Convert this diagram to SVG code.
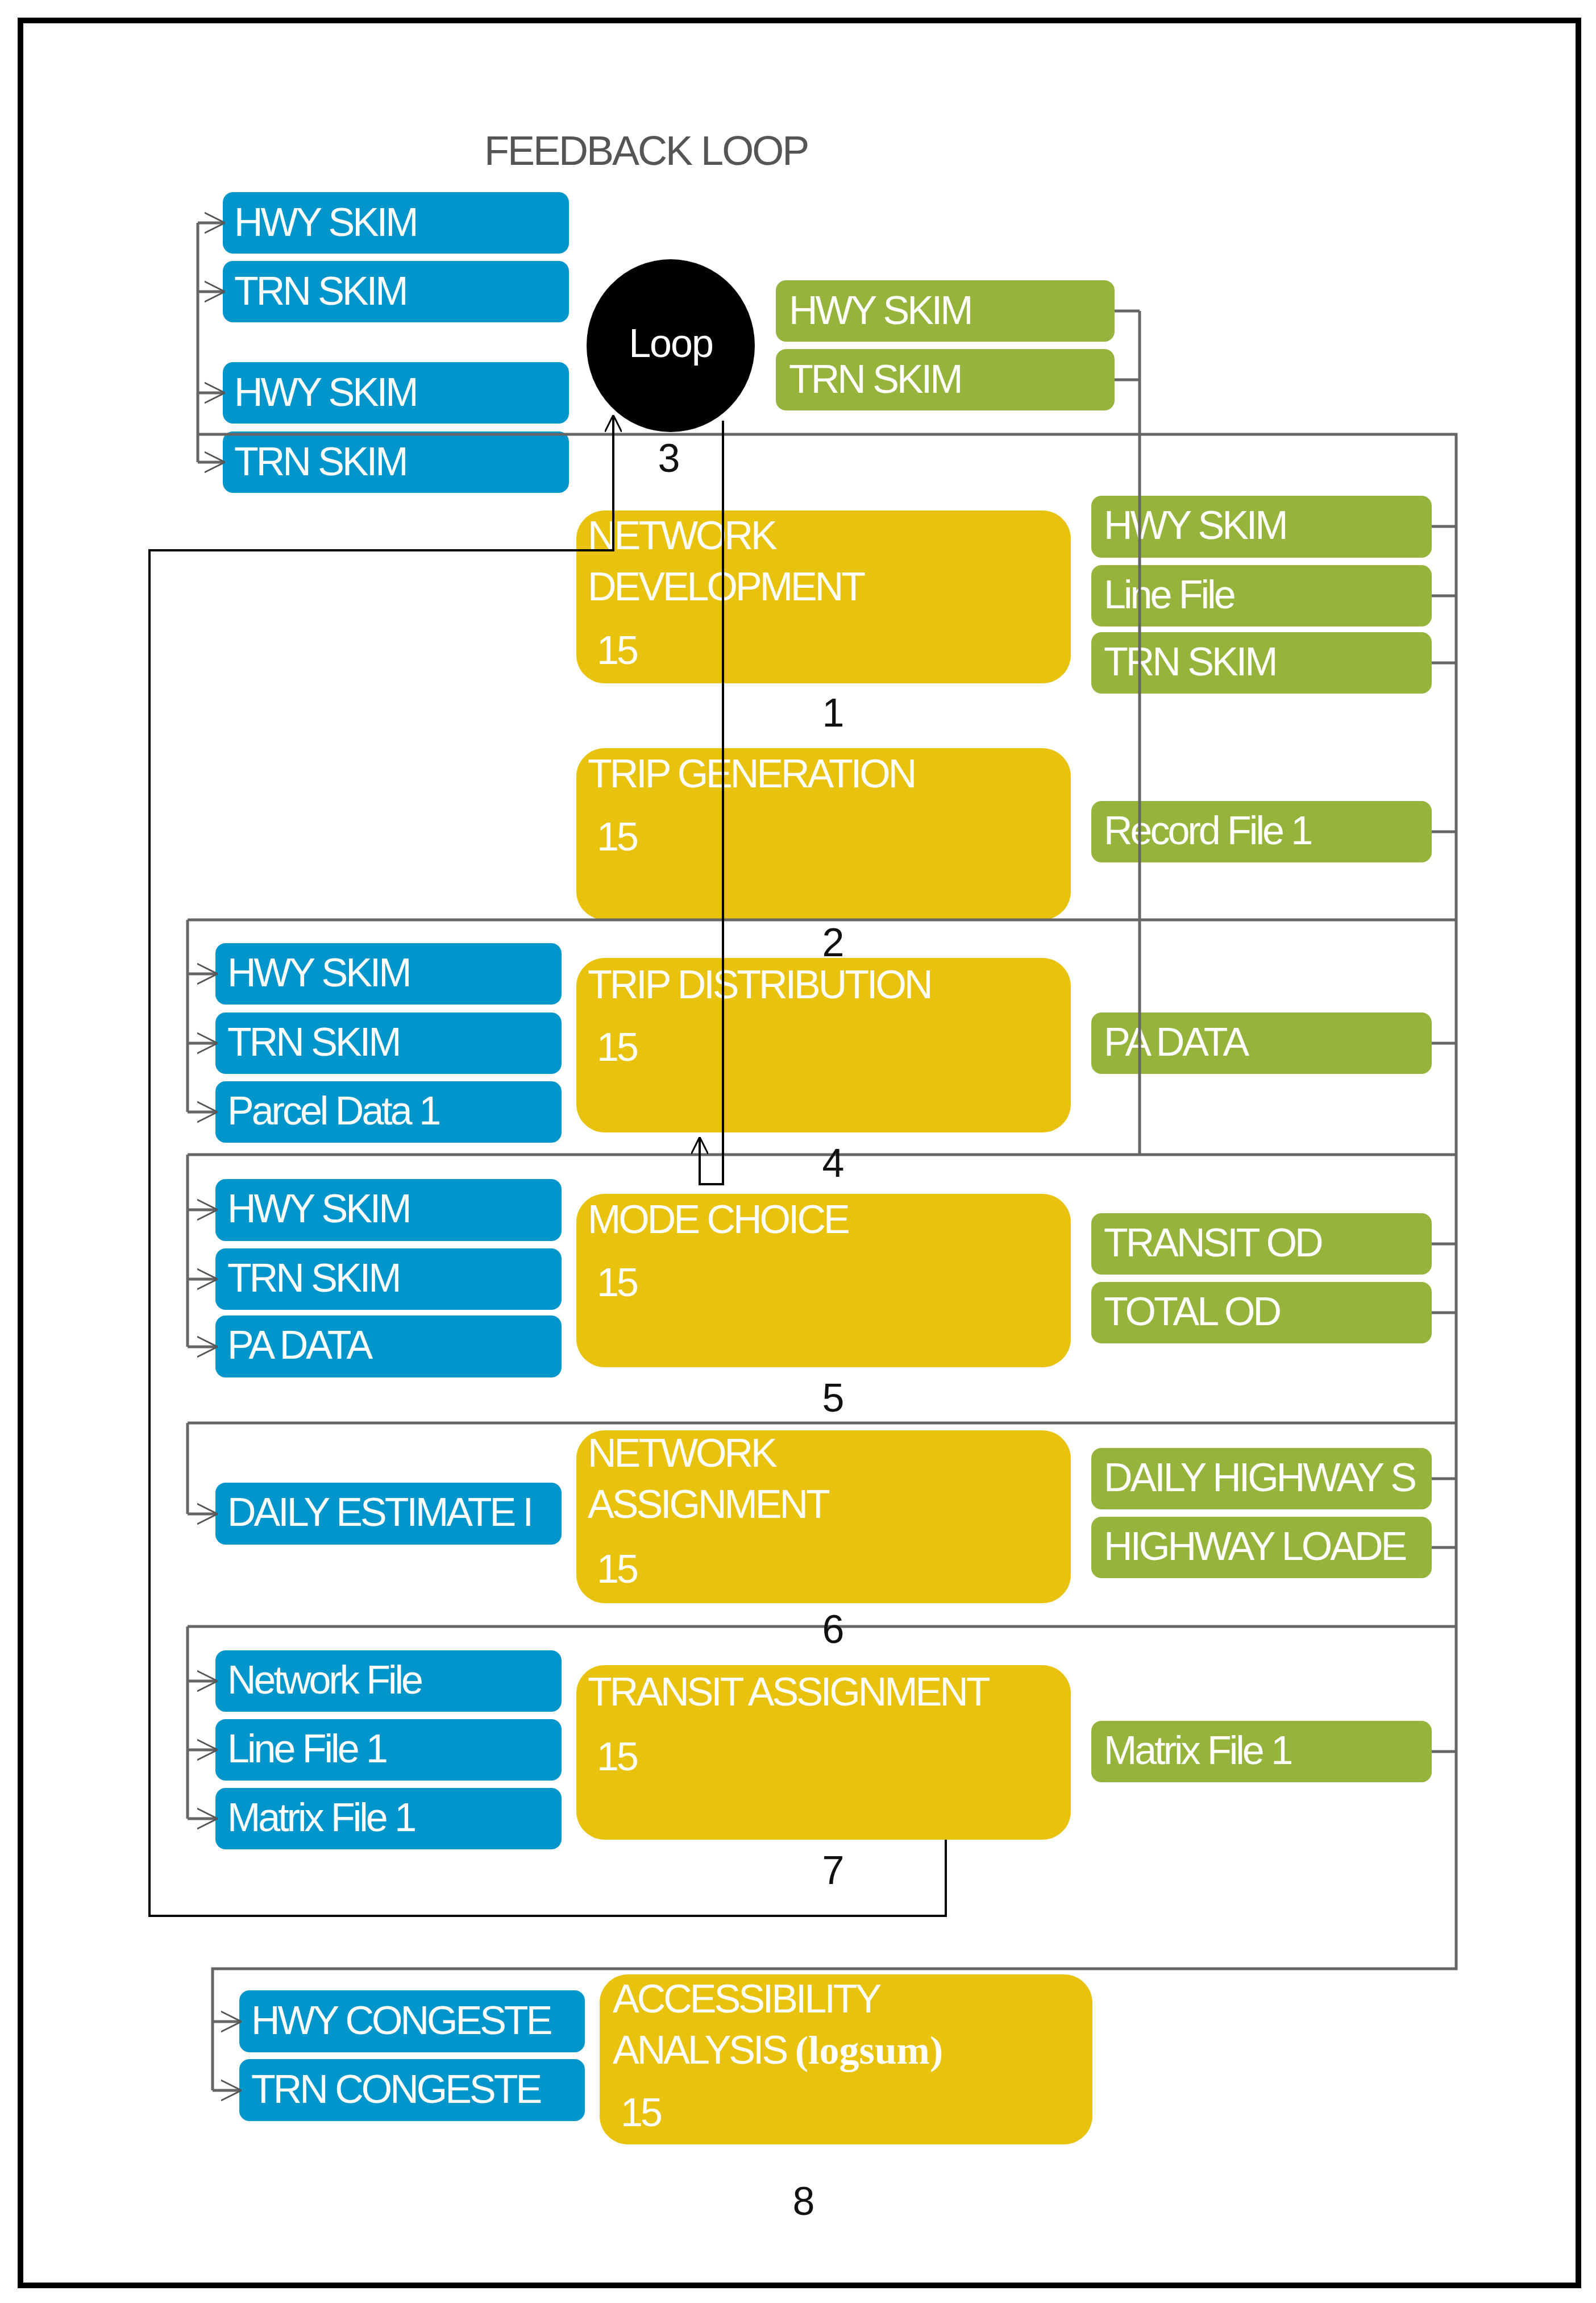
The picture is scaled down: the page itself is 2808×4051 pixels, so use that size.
<svg xmlns="http://www.w3.org/2000/svg" width="2808" height="4051" viewBox="0 0 2808 4051">
<style>
.b{fill:#0096CC}.g{fill:#96B43C}.y{fill:#E8C20C}
.t{font-family:"Liberation Sans",Arial,sans-serif;font-size:70px;fill:#fff;letter-spacing:-4px}
.n{font-family:"Liberation Sans",Arial,sans-serif;font-size:70px;fill:#111}
.c{fill:none;stroke:#666;stroke-width:5}
.a{fill:none;stroke:#666;stroke-width:5;marker-end:url(#ch)}
.k{fill:none;stroke:#000;stroke-width:4}
</style>
<defs>
<marker id="ch" viewBox="0 0 10 10" refX="9" refY="5" markerWidth="36" markerHeight="44" orient="auto" markerUnits="userSpaceOnUse"><path d="M0,0 L10,5 L0,10" fill="none" stroke="#555" stroke-width="0.8"/></marker>
<marker id="up" viewBox="0 0 10 10" refX="10" refY="5" markerWidth="30" markerHeight="30" orient="auto" markerUnits="userSpaceOnUse"><path d="M0,0 L10,5 L0,10" fill="none" stroke="#000" stroke-width="1"/></marker>
<clipPath id="c1"><rect x="379" y="2608" width="609" height="109"/></clipPath>
<clipPath id="c2"><rect x="1920" y="2547" width="599" height="229"/></clipPath>
<clipPath id="c3"><rect x="421" y="3501" width="608" height="230"/></clipPath>
</defs>
<rect x="36" y="36" width="2741" height="3984" fill="#fff" stroke="#000" stroke-width="10"/>
<text x="852" y="290" font-family="Liberation Sans,Arial,sans-serif" font-size="72" fill="#555" letter-spacing="-3">FEEDBACK LOOP</text>

<g id="loop"><ellipse cx="1180" cy="608" rx="148" ry="152" fill="#000"/><text x="1180" y="628" text-anchor="middle" class="t" style="letter-spacing:-2px">Loop</text></g>

<g id="blue-top">
<rect class="b" x="392" y="338" width="609" height="108" rx="18"/><text class="t" x="412" y="415">HWY SKIM</text>
<rect class="b" x="392" y="459" width="609" height="108" rx="18"/><text class="t" x="412" y="536">TRN SKIM</text>
<rect class="b" x="392" y="637" width="609" height="108" rx="18"/><text class="t" x="412" y="714">HWY SKIM</text>
<rect class="b" x="392" y="759" width="609" height="108" rx="18"/><text class="t" x="412" y="836">TRN SKIM</text>
</g>
<g id="green-top">
<rect class="g" x="1365" y="493" width="596" height="108" rx="18"/><text class="t" x="1388" y="570">HWY SKIM</text>
<rect class="g" x="1365" y="614" width="596" height="108" rx="18"/><text class="t" x="1388" y="691">TRN SKIM</text>
</g>

<g id="s1"><rect class="y" x="1014" y="898" width="870" height="304" rx="50"/>
<text class="t" x="1034" y="966">NETWORK</text><text class="t" x="1034" y="1056">DEVELOPMENT</text><text class="t" x="1050" y="1168">15</text></g>
<g id="s2"><rect class="y" x="1014" y="1316" width="870" height="302" rx="50"/>
<text class="t" x="1034" y="1385">TRIP GENERATION</text><text class="t" x="1050" y="1496">15</text></g>
<g id="s3"><rect class="y" x="1014" y="1685" width="870" height="307" rx="50"/>
<text class="t" x="1034" y="1756">TRIP DISTRIBUTION</text><text class="t" x="1050" y="1866">15</text></g>
<g id="s4"><rect class="y" x="1014" y="2100" width="870" height="305" rx="50"/>
<text class="t" x="1034" y="2169">MODE CHOICE</text><text class="t" x="1050" y="2280">15</text></g>
<g id="s5"><rect class="y" x="1014" y="2516" width="870" height="304" rx="50"/>
<text class="t" x="1034" y="2580">NETWORK</text><text class="t" x="1034" y="2670">ASSIGNMENT</text><text class="t" x="1050" y="2784">15</text></g>
<g id="s6"><rect class="y" x="1014" y="2929" width="870" height="307" rx="50"/>
<text class="t" x="1034" y="3000">TRANSIT ASSIGNMENT</text><text class="t" x="1050" y="3114">15</text></g>
<g id="s7"><rect class="y" x="1055" y="3473" width="867" height="299" rx="50"/>
<text class="t" x="1078" y="3540">ACCESSIBILITY</text><text class="t" x="1078" y="3630">ANALYSIS <tspan font-family="Liberation Serif,serif" font-weight="bold" letter-spacing="0">(logsum)</tspan></text><text class="t" x="1092" y="3740">15</text></g>

<g id="green-right">
<rect class="g" x="1920" y="872" width="599" height="109" rx="18"/><text class="t" x="1942" y="948">HWY SKIM</text>
<rect class="g" x="1920" y="994" width="599" height="108" rx="18"/><text class="t" x="1942" y="1070">Line File</text>
<rect class="g" x="1920" y="1112" width="599" height="108" rx="18"/><text class="t" x="1942" y="1188">TRN SKIM</text>
<rect class="g" x="1920" y="1409" width="599" height="108" rx="18"/><text class="t" x="1942" y="1485">Record File 1</text>
<rect class="g" x="1920" y="1781" width="599" height="108" rx="18"/><text class="t" x="1942" y="1857">PA DATA</text>
<rect class="g" x="1920" y="2134" width="599" height="108" rx="18"/><text class="t" x="1942" y="2210">TRANSIT OD</text>
<rect class="g" x="1920" y="2255" width="599" height="108" rx="18"/><text class="t" x="1942" y="2331">TOTAL OD</text>
<rect class="g" x="1920" y="2547" width="599" height="108" rx="18"/>
<rect class="g" x="1920" y="2668" width="599" height="108" rx="18"/>
<g clip-path="url(#c2)"><text class="t" x="1942" y="2623">DAILY HIGHWAY S</text><text class="t" x="1942" y="2744">HIGHWAY LOADE</text></g>
<rect class="g" x="1920" y="3027" width="599" height="108" rx="18"/><text class="t" x="1942" y="3103">Matrix File 1</text>
</g>

<g id="blue-left">
<rect class="b" x="379" y="1659" width="609" height="108" rx="18"/><text class="t" x="400" y="1735">HWY SKIM</text>
<rect class="b" x="379" y="1781" width="609" height="108" rx="18"/><text class="t" x="400" y="1857">TRN SKIM</text>
<rect class="b" x="379" y="1902" width="609" height="108" rx="18"/><text class="t" x="400" y="1978">Parcel Data 1</text>
<rect class="b" x="379" y="2074" width="609" height="109" rx="18"/><text class="t" x="400" y="2150">HWY SKIM</text>
<rect class="b" x="379" y="2196" width="609" height="108" rx="18"/><text class="t" x="400" y="2272">TRN SKIM</text>
<rect class="b" x="379" y="2314" width="609" height="109" rx="18"/><text class="t" x="400" y="2390">PA DATA</text>
<rect class="b" x="379" y="2608" width="609" height="109" rx="18"/><text class="t" x="400" y="2684" clip-path="url(#c1)">DAILY ESTIMATE I</text>
<rect class="b" x="379" y="2903" width="609" height="108" rx="18"/><text class="t" x="400" y="2979">Network File</text>
<rect class="b" x="379" y="3024" width="609" height="108" rx="18"/><text class="t" x="400" y="3100">Line File 1</text>
<rect class="b" x="379" y="3145" width="609" height="108" rx="18"/><text class="t" x="400" y="3221">Matrix File 1</text>
<rect class="b" x="421" y="3501" width="608" height="109" rx="18"/>
<rect class="b" x="421" y="3622" width="608" height="109" rx="18"/>
<g clip-path="url(#c3)"><text class="t" x="442" y="3578">HWY CONGESTE</text><text class="t" x="442" y="3699">TRN CONGESTE</text></g>
</g>

<g id="connectors">
<path class="c" d="M348,392 V813 M348,764 H2562 V3463 H374 V3677"/>
<path class="a" d="M348,392 H392"/><path class="a" d="M348,513 H392"/><path class="a" d="M348,691 H392"/><path class="a" d="M348,813 H392"/>
<path class="c" d="M1961,547 H2005 M1961,668 H2005 M2005,547 V2031"/>
<path class="c" d="M2519,926 H2562 M2519,1048 H2562 M2519,1166 H2562 M2519,1463 H2562 M2519,1835 H2562 M2519,2188 H2562 M2519,2309 H2562 M2519,2601 H2562 M2519,2722 H2562 M2519,3081 H2562"/>
<path class="c" d="M330,1618 H2562 M330,1618 V1956 M330,2031 H2562 M330,2031 V2369 M330,2503 H2562 M330,2503 V2663 M330,2861 H2562 M330,2861 V3199"/>
<path class="a" d="M330,1713 H379"/><path class="a" d="M330,1835 H379"/><path class="a" d="M330,1956 H379"/>
<path class="a" d="M330,2128 H379"/><path class="a" d="M330,2250 H379"/><path class="a" d="M330,2369 H379"/>
<path class="a" d="M330,2663 H379"/>
<path class="a" d="M330,2957 H379"/><path class="a" d="M330,3078 H379"/><path class="a" d="M330,3199 H379"/>
<path class="a" d="M374,3556 H421"/><path class="a" d="M374,3677 H421"/>
<path class="k" d="M1664,3236 V3370 H263 V968 H1079 V730" marker-end="url(#up)"/>
<path class="k" d="M1272,740 V2083 H1231 V2000" marker-end="url(#up)"/>
</g>

<g id="numbers">
<text class="n" x="1177" y="830" text-anchor="middle">3</text>
<text class="n" x="1466" y="1278" text-anchor="middle">1</text>
<text class="n" x="1466" y="1682" text-anchor="middle">2</text>
<text class="n" x="1466" y="2070" text-anchor="middle">4</text>
<text class="n" x="1466" y="2483" text-anchor="middle">5</text>
<text class="n" x="1466" y="2890" text-anchor="middle">6</text>
<text class="n" x="1466" y="3314" text-anchor="middle">7</text>
<text class="n" x="1414" y="3896" text-anchor="middle" font-family="Liberation Serif,serif" font-size="80">8</text>
</g>
</svg>
